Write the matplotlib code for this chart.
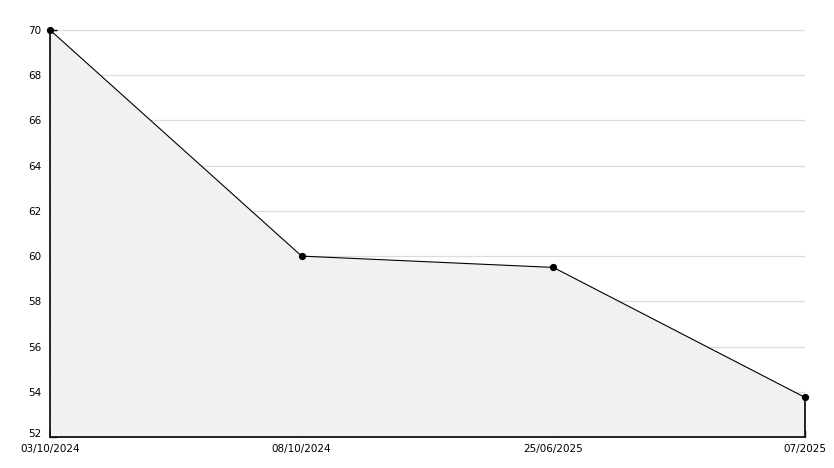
"""Line chart with shaded area, four dated readings."""
import matplotlib
matplotlib.use("Agg")
import matplotlib.pyplot as plt
import matplotlib.ticker as mticker
import matplotlib.transforms as mtransforms

DATES = ["03/10/2024", "08/10/2024", "25/06/2025", "07/2025"]
VALUES = [70.0, 60.0, 59.5, 53.75]
Y_MIN, Y_MAX = 52, 70

FILL = "#f1f1f1"
GRID = "#dcdcdc"
INK = "#000000"

W, H = 834, 468
fig = plt.figure(figsize=(W / 100, H / 100), dpi=100)
ax = fig.add_axes([50 / W, 31 / H, 755 / W, 407 / H])

x = list(range(len(DATES)))
ax.fill_between(x, VALUES, Y_MIN, color=FILL, linewidth=0, zorder=1)
ax.plot(x, VALUES, color=INK, linewidth=0.8, zorder=3, clip_on=False)
ax.plot(x, VALUES, linestyle="none", marker="o", markersize=4.2,
        color=INK, zorder=4, clip_on=False)
# closing edge of the shaded area on the right
ax.plot([x[-1], x[-1]], [Y_MIN, VALUES[-1]], color=INK, linewidth=1.2, zorder=3, clip_on=False)

ax.set_xlim(x[0], x[-1])
ax.set_ylim(Y_MIN, Y_MAX)
ax.set_xticks(x)
ax.set_xticklabels(DATES)
ax.yaxis.set_major_locator(mticker.MultipleLocator(2))
ax.yaxis.set_minor_locator(mticker.MultipleLocator(1))

ax.yaxis.grid(True, color=GRID, linewidth=0.9, zorder=0)
ax.set_axisbelow(True)

for s in ("top", "right"):
    ax.spines[s].set_visible(False)
for s in ("left", "bottom"):
    ax.spines[s].set_color(INK)
    ax.spines[s].set_linewidth(1.2)

ax.tick_params(axis="y", which="both", direction="in", length=5, width=1, labelsize=7.5, pad=6)
ax.tick_params(axis="x", direction="in", length=5, width=1, labelsize=7.5, pad=5)

# lift the bottom y label so it clears the first date
fig.canvas.draw()
for lab in ax.get_yticklabels():
    if lab.get_text() == str(Y_MIN):
        lab.set_transform(lab.get_transform() + mtransforms.ScaledTranslation(0, 4 / 100, fig.dpi_scale_trans))

fig.savefig("out.png", dpi=100, facecolor="white")
